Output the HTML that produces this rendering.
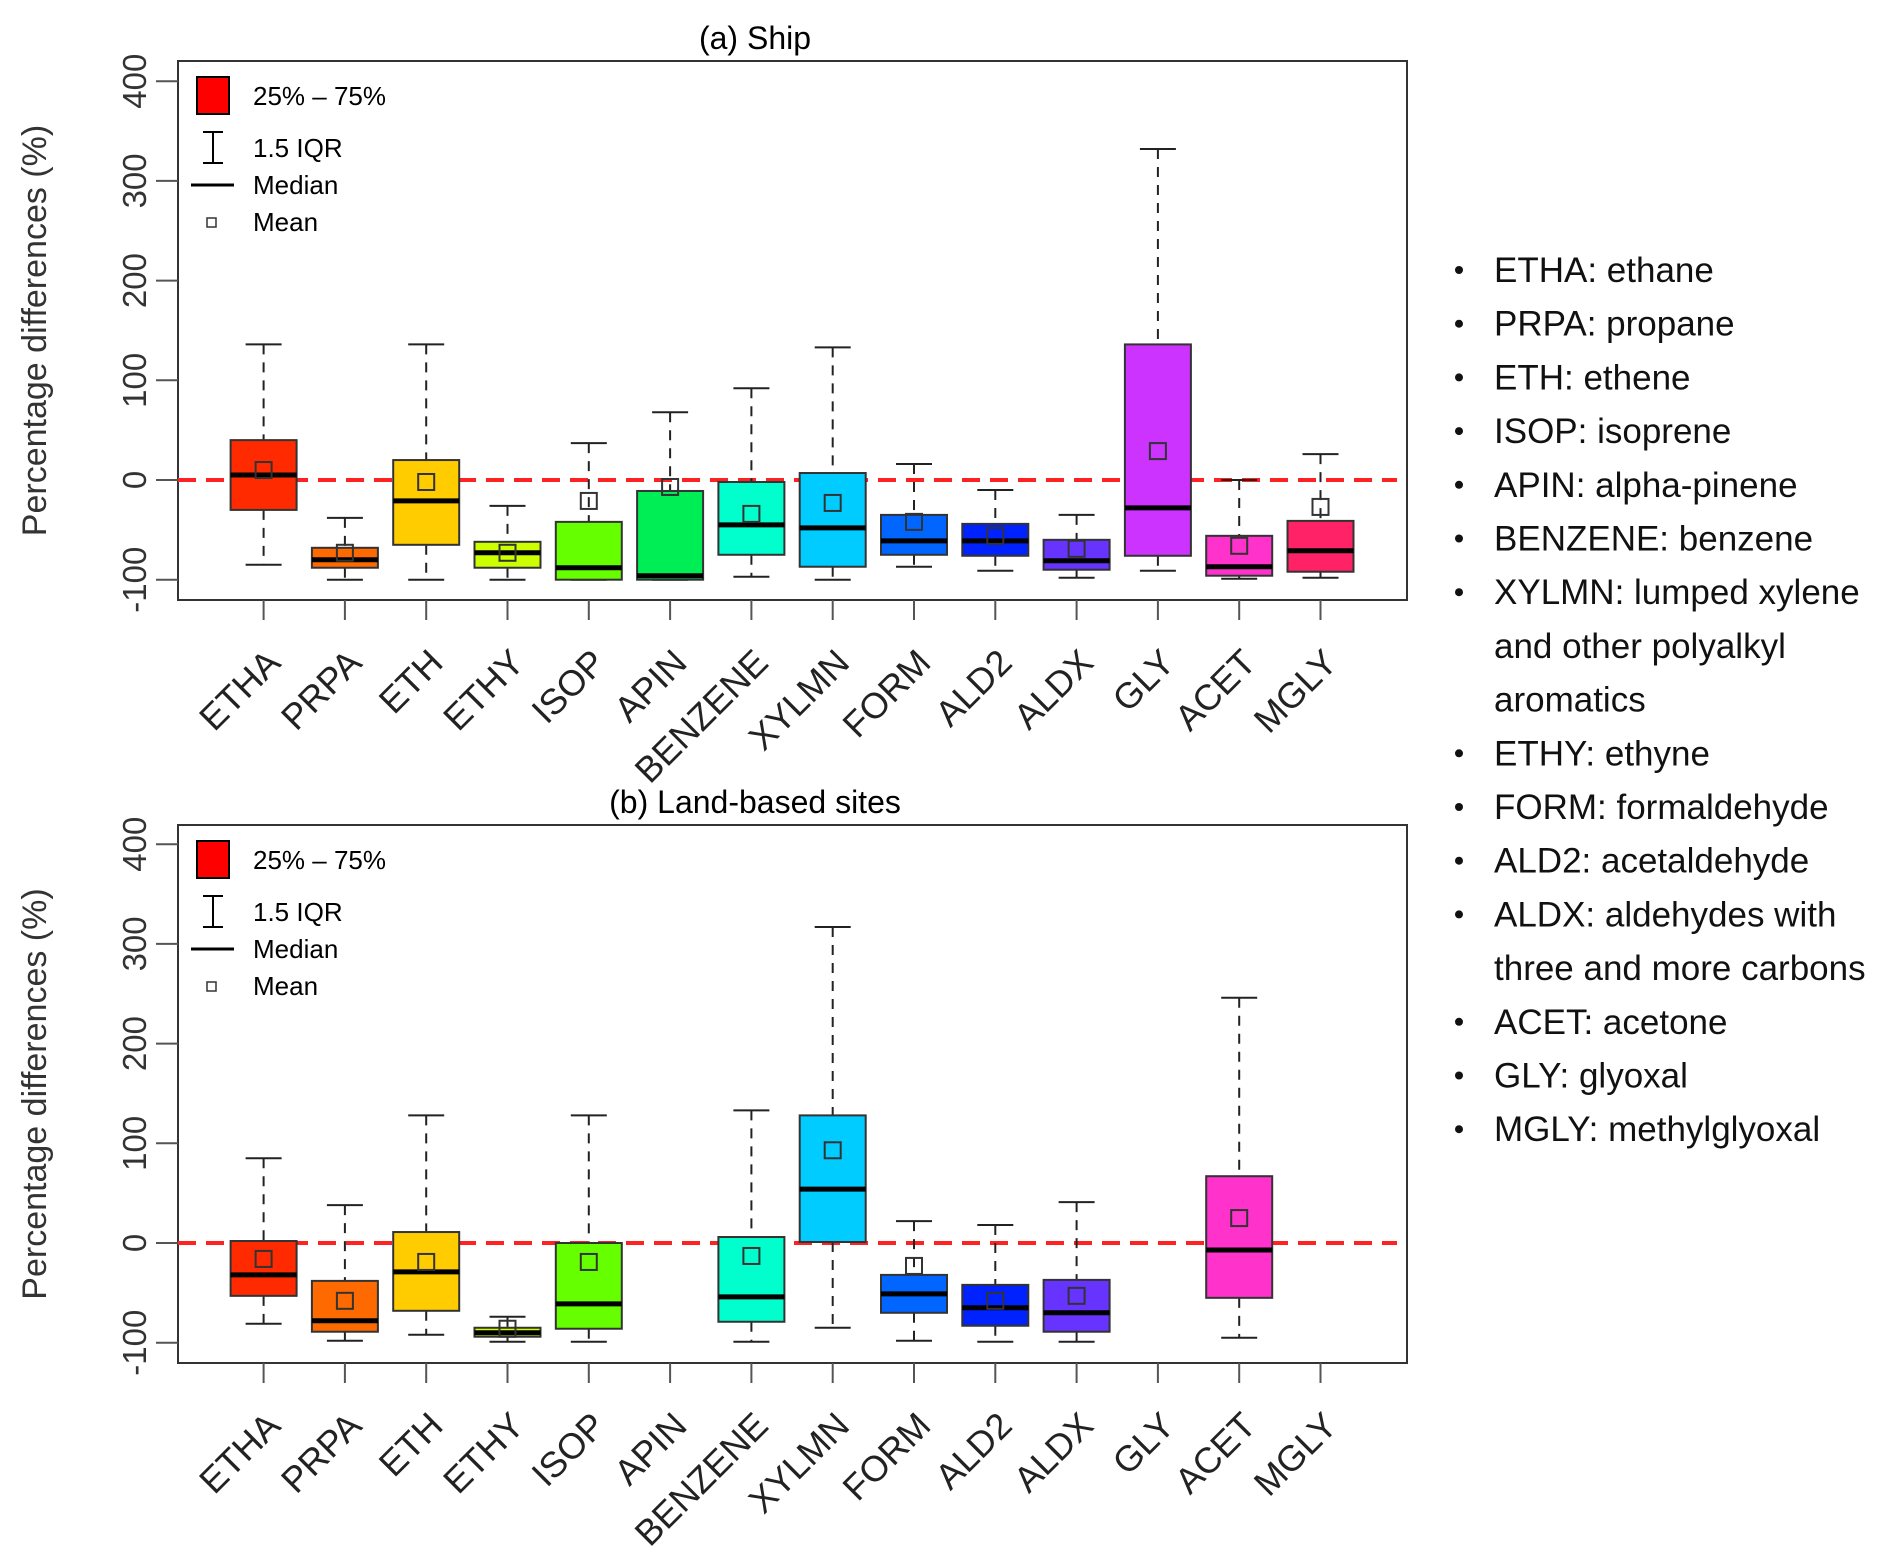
<!DOCTYPE html>
<html><head><meta charset="utf-8"><style>
html,body{margin:0;padding:0;background:#fff;}
svg{display:block;font-family:"Liberation Sans",Arial,sans-serif;}
</style></head><body>
<svg id="chart" width="1892" height="1557" viewBox="0 0 1892 1557"></svg>
<script>
const categories=["ETHA","PRPA","ETH","ETHY","ISOP","APIN","BENZENE","XYLMN","FORM","ALD2","ALDX","GLY","ACET","MGLY"];
const colors=["#ff2a00","#ff6a00","#ffcc00","#ccff00","#66ff00","#00ee55","#00ffcc","#00ccff","#0066ff","#0022ff","#6633ff","#cc33ff","#ff33cc","#ff2266"];
const yTicks=[-100,0,100,200,300,400];
const shipLow=[-85,-100,-100,-100,-100,-100,-97,-100,-87,-91,-98,-91,-99,-98];
const shipQ1=[-30,-88,-65,-88,-100,-100,-75,-87,-75,-76,-90,-76,-96,-92];
const shipMed=[5,-80,-21,-73,-88,-96,-45,-48,-61,-61,-81,-28,-87,-71];
const shipQ3=[40,-68,20,-62,-42,-11,-2,7,-35,-44,-60,136,-56,-41];
const shipHigh=[136,-38,136,-26,37,68,92,133,16,-10,-35,332,0,26];
const shipMean=[10,-73,-2,-73,-21,-7,-34,-23,-42,-56,-69,29,-66,-27];
const landLow=[-81,-98,-92,-99,-99,null,-99,-85,-98,-99,-99,null,-95,null];
const landQ1=[-53,-89,-68,-94,-86,null,-79,1,-70,-83,-89,null,-55,null];
const landMed=[-32,-78,-29,-90,-61,null,-54,54,-51,-65,-70,null,-7,null];
const landQ3=[2,-38,11,-85,0,null,6,128,-32,-42,-37,null,67,null];
const landHigh=[85,38,128,-74,128,null,133,317,22,18,41,null,246,null];
const landMean=[-16,-58,-19,-86,-19,null,-13,93,-23,-58,-53,null,25,null];
const legendItems=["ETHA: ethane","PRPA: propane","ETH: ethene","ISOP: isoprene","APIN: alpha-pinene","BENZENE: benzene","XYLMN: lumped xylene","and other polyalkyl","aromatics","ETHY: ethyne","FORM: formaldehyde","ALD2: acetaldehyde","ALDX: aldehydes with","three and more carbons","ACET: acetone","GLY: glyoxal","MGLY: methylglyoxal"];
const bulleted=[1,1,1,1,1,1,1,0,0,1,1,1,1,0,1,1,1];

const NS="http://www.w3.org/2000/svg";
const svg=document.getElementById('chart');
function mk(tag,attrs,parent,text){const e=document.createElementNS(NS,tag);for(const k in attrs)e.setAttribute(k,attrs[k]);if(text!==undefined)e.textContent=text;(parent||svg).appendChild(e);return e;}

const L=178,R=1407,step=81.3,x0=263.6,bw=66,cap=36;
function xPos(i){return x0+i*step;}

function panel(id,title,top,bottom,zeroY,low,q1,med,q3,high,mean){
  const g=mk('g',{});
  
  
  const y=v=>zeroY-v*0.997;
  const t=mk('text',{x:755,y:top-12,'font-size':32,'text-anchor':'middle'},g,title);
  
  const fr=mk('rect',{x:L,y:top,width:R-L,height:bottom-top,fill:'none',stroke:'#333','stroke-width':2},g);
  
  yTicks.forEach(v=>{
    const ty=y(v);
    mk('line',{x1:L-22,x2:L,y1:ty,y2:ty,stroke:'#555','stroke-width':2},g);
    const tl=mk('text',{transform:`translate(${L-32},${ty}) rotate(-90)`,'font-size':33,'text-anchor':'middle',fill:'#333'},g,String(v));
    
  });
  const yl=mk('text',{transform:`translate(46,${(top+bottom)/2}) rotate(-90)`,'font-size':34,'text-anchor':'middle',fill:'#333'},g,'Percentage differences (%)');
  
  const zl=mk('line',{x1:L,x2:R-10,y1:y(0),y2:y(0),stroke:'#f22','stroke-width':4,'stroke-dasharray':'18 10'},g);
  
  categories.forEach((c,i)=>{
    const cx=xPos(i);
    mk('line',{x1:cx,x2:cx,y1:bottom,y2:bottom+20,stroke:'#555','stroke-width':2},g);
    const lab=mk('text',{transform:`translate(${cx+12},${bottom+58}) rotate(-45)`,'font-size':36,'text-anchor':'end','dominant-baseline':'middle',fill:'#222'},g,c);
    
    if(q1[i]===null)return;
    const bg=mk('g',{},g);
    
    
    mk('line',{x1:cx,x2:cx,y1:y(high[i]),y2:y(q3[i]),stroke:'#222','stroke-width':2,'stroke-dasharray':'10 8'},bg);
    mk('line',{x1:cx,x2:cx,y1:y(q1[i]),y2:y(low[i]),stroke:'#222','stroke-width':2,'stroke-dasharray':'10 8'},bg);
    mk('line',{x1:cx-cap/2,x2:cx+cap/2,y1:y(high[i]),y2:y(high[i]),stroke:'#222','stroke-width':2},bg);
    mk('line',{x1:cx-cap/2,x2:cx+cap/2,y1:y(low[i]),y2:y(low[i]),stroke:'#222','stroke-width':2},bg);
    mk('rect',{x:cx-bw/2,y:y(q3[i]),width:bw,height:y(q1[i])-y(q3[i]),fill:colors[i],stroke:'#333','stroke-width':2},bg);
    mk('line',{x1:cx-bw/2,x2:cx+bw/2,y1:y(med[i]),y2:y(med[i]),stroke:'#000','stroke-width':5},bg);
    mk('rect',{x:cx-8,y:y(mean[i])-8,width:16,height:16,fill:'none',stroke:'#333','stroke-width':2},bg);
  });
  const lg=mk('g',{},g);
  
  const o=top+16;
  mk('rect',{x:197,y:o,width:32,height:37,fill:'#ff0000',stroke:'#000','stroke-width':2},lg);
  mk('text',{x:253,y:o+28,'font-size':26},lg,'25% – 75%');
  mk('line',{x1:213,x2:213,y1:o+55,y2:o+86,stroke:'#000','stroke-width':2},lg);
  mk('line',{x1:203,x2:223,y1:o+55,y2:o+55,stroke:'#000','stroke-width':2},lg);
  mk('line',{x1:203,x2:223,y1:o+86,y2:o+86,stroke:'#000','stroke-width':2},lg);
  mk('text',{x:253,y:o+80,'font-size':26},lg,'1.5 IQR');
  mk('line',{x1:191,x2:234,y1:o+108,y2:o+108,stroke:'#000','stroke-width':3},lg);
  mk('text',{x:253,y:o+117,'font-size':26},lg,'Median');
  mk('rect',{x:207,y:o+141,width:9,height:9,fill:'none',stroke:'#333','stroke-width':1.5},lg);
  mk('text',{x:253,y:o+154,'font-size':26},lg,'Mean');
}
panel('ship','(a) Ship',61,600,480,shipLow,shipQ1,shipMed,shipQ3,shipHigh,shipMean);
panel('land','(b) Land-based sites',825,1363,1243,landLow,landQ1,landMed,landQ3,landHigh,landMean);

const kg=mk('g',{});


legendItems.forEach((s,i)=>{
  const cy=270+i*53.7;
  if(bulleted[i]) mk('circle',{cx:1459,cy:cy,r:4,fill:'#111'},kg);
  const t=mk('text',{x:1494,y:cy+12,'font-size':35,fill:'#111'},kg,s);
  
  
});
</script>
</body></html>
